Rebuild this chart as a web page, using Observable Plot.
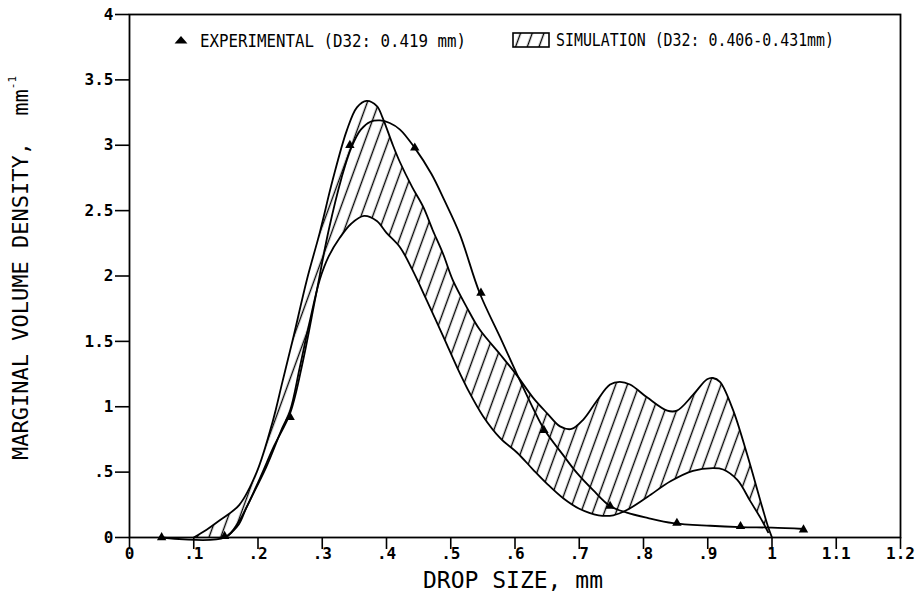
<!DOCTYPE html>
<html><head><meta charset="utf-8">
<script src="https://cdn.jsdelivr.net/npm/d3@7"></script>
<script src="https://cdn.jsdelivr.net/npm/@observablehq/plot@0.6"></script>
<style>body{margin:0;background:#fff}</style>
</head><body><div id="chart"></div>
<script>
// ---- data ----
const xTicks = [0,0.1,0.2,0.3,0.4,0.5,0.6,0.7,0.8,0.9,1,1.1,1.2];
const yTicks = [0,0.5,1,1.5,2,2.5,3,3.5,4];

// simulation envelope, upper boundary [drop size, density]
const simUpper = [
 [0.1,0],[0.12,0.06],[0.14,0.13],[0.171,0.25],[0.198,0.5],[0.223,0.89],[0.238,1.19],
 [0.254,1.51],[0.276,1.97],[0.296,2.33],[0.316,2.73],[0.338,3.11],[0.354,3.29],[0.369,3.34],
 [0.385,3.3],[0.394,3.21],[0.41,3.0],[0.421,2.87],[0.44,2.68],[0.457,2.53],[0.472,2.35],
 [0.488,2.17],[0.503,1.97],[0.525,1.76],[0.545,1.59],[0.577,1.4],[0.603,1.24],[0.628,1.07],
 [0.65,0.95],[0.67,0.85],[0.688,0.83],[0.706,0.9],[0.728,1.05],[0.748,1.17],[0.763,1.19],
 [0.779,1.17],[0.806,1.07],[0.837,0.97],[0.852,0.97],[0.877,1.09],[0.899,1.21],[0.908,1.22],
 [0.919,1.19],[0.939,0.98],[0.961,0.64],[0.982,0.28],[0.994,0.08],[1.0,0]
];
// simulation envelope, lower boundary
const simLower = [
 [0.15,0],[0.17,0.1],[0.182,0.23],[0.213,0.54],[0.238,0.84],[0.25,0.97],[0.265,1.3],
 [0.28,1.64],[0.296,1.97],[0.31,2.15],[0.327,2.29],[0.345,2.4],[0.365,2.46],[0.385,2.42],
 [0.4,2.33],[0.421,2.22],[0.44,2.05],[0.463,1.81],[0.49,1.52],[0.51,1.3],[0.53,1.1],
 [0.55,0.93],[0.577,0.76],[0.603,0.65],[0.628,0.52],[0.65,0.41],[0.675,0.3],[0.7,0.22],
 [0.73,0.17],[0.753,0.17],[0.774,0.21],[0.806,0.31],[0.842,0.43],[0.877,0.51],[0.908,0.53],
 [0.924,0.52],[0.946,0.44],[0.966,0.28],[0.982,0.15],[0.994,0.04]
];
// experimental fitted curve
const expCurve = [
 [0.05,0],[0.148,0],[0.17,0.12],[0.2,0.42],[0.225,0.7],[0.25,0.95],[0.27,1.35],[0.29,1.85],
 [0.31,2.35],[0.33,2.75],[0.345,2.98],[0.36,3.12],[0.375,3.18],[0.39,3.19],[0.405,3.17],
 [0.421,3.12],[0.444,2.98],[0.47,2.78],[0.49,2.58],[0.514,2.32],[0.545,1.87],[0.577,1.53],
 [0.603,1.25],[0.628,0.99],[0.645,0.83],[0.675,0.63],[0.697,0.49],[0.722,0.36],[0.748,0.24],
 [0.774,0.19],[0.806,0.15],[0.846,0.11],[0.904,0.09],[0.951,0.08],[1.0,0.075],[1.05,0.065]
];
// experimental points
const expPoints = [
 [0.05,0],[0.148,0.01],[0.25,0.92],[0.343,3.0],[0.444,2.98],[0.547,1.87],[0.645,0.82],
 [0.748,0.24],[0.852,0.11],[0.951,0.085],[1.049,0.06]
];
const legendExp = "EXPERIMENTAL (D32: 0.419 mm)";
const legendSim = "SIMULATION (D32: 0.406-0.431mm)";
const xTitle = "DROP SIZE, mm";
const yTitle = "MARGINAL VOLUME DENSITY,  mm";

// ---- build ----
const band = [...simUpper, ...simLower.slice().reverse()];
const fmt = d => {
  if (d === 0) return "0";
  const s = String(+d.toFixed(1));
  return s.startsWith("0") ? s.slice(1) : s;
};
const lineStyle = {x: d => d[0], y: d => d[1], stroke: "black", strokeWidth: 1.8, curve: "catmull-rom"};

const svg = Plot.plot({
  width: 920, height: 594,
  marginLeft: 129, marginRight: 20, marginTop: 14, marginBottom: 57,
  x: {domain: [0, 1.2]},
  y: {domain: [0, 4]},
  style: {fontFamily: "DejaVu Sans Mono", fontSize: "16px", color: "black", background: "white"},
  marks: [
    Plot.line(band, {x: d => d[0], y: d => d[1], fill: "url(#hatch)", stroke: "none", curve: "catmull-rom"}),
    Plot.line(simUpper, lineStyle),
    Plot.line(simLower, lineStyle),
    Plot.line(expCurve, lineStyle),
    Plot.dot(expPoints, {x: d => d[0], y: d => d[1], symbol: "triangle", r: 3.5, fill: "black", stroke: "none"}),
    Plot.frame({stroke: "black", strokeWidth: 1.8}),
    Plot.axisX({ticks: xTicks, tickSize: 12, tickPadding: -2, tickFormat: fmt, label: null, strokeWidth: 1.6, fontWeight: "bold"}),
    Plot.axisY({ticks: yTicks, tickSize: 14, tickPadding: 2, tickFormat: fmt, label: null, strokeWidth: 1.6, fontWeight: "bold"})
  ]
});

const s = d3.select(svg);
const defs = s.insert("defs", ":first-child");
const pat = defs.append("pattern").attr("id", "hatch").attr("patternUnits", "userSpaceOnUse")
  .attr("width", 11).attr("height", 11).attr("patternTransform", "rotate(20)");
pat.append("line").attr("x1", 5.5).attr("y1", -1).attr("x2", 5.5).attr("y2", 12)
  .attr("stroke", "black").attr("stroke-width", 1.4);

// axis titles
s.append("text").attr("x", 423).attr("y", 588).attr("text-anchor", "start").attr("font-family", "DejaVu Sans Mono")
  .attr("font-size", 23).attr("fill", "black").text(xTitle);
const yt = s.append("text").attr("transform", "translate(28,460) rotate(-90)").attr("text-anchor", "start")
  .attr("font-family", "DejaVu Sans Mono").attr("font-size", 22).attr("fill", "black");
yt.append("tspan").text(yTitle);
yt.append("tspan").attr("font-size", 11).attr("dy", -12).text("-1");

// legend
const lg = s.append("g").attr("text-anchor", "start");
lg.append("path").attr("d", d3.symbol(d3.symbolTriangle, 50)()).attr("transform", "translate(181,41) scale(1.2,0.8)").attr("fill", "black");
lg.append("text").attr("x", 200).attr("y", 47).attr("font-family", "DejaVu Sans Mono").attr("font-size", 18)
  .attr("textLength", 266).attr("lengthAdjust", "spacingAndGlyphs").attr("fill", "black").text(legendExp);
lg.append("rect").attr("x", 513).attr("y", 33).attr("width", 36).attr("height", 14)
  .attr("fill", "url(#hatch)").attr("stroke", "black").attr("stroke-width", 1.6);
lg.append("text").attr("x", 556).attr("y", 46).attr("font-family", "DejaVu Sans Mono").attr("font-size", 17)
  .attr("textLength", 278).attr("lengthAdjust", "spacingAndGlyphs").attr("fill", "black").text(legendSim);

document.getElementById("chart").appendChild(svg);
</script>
</body></html>
